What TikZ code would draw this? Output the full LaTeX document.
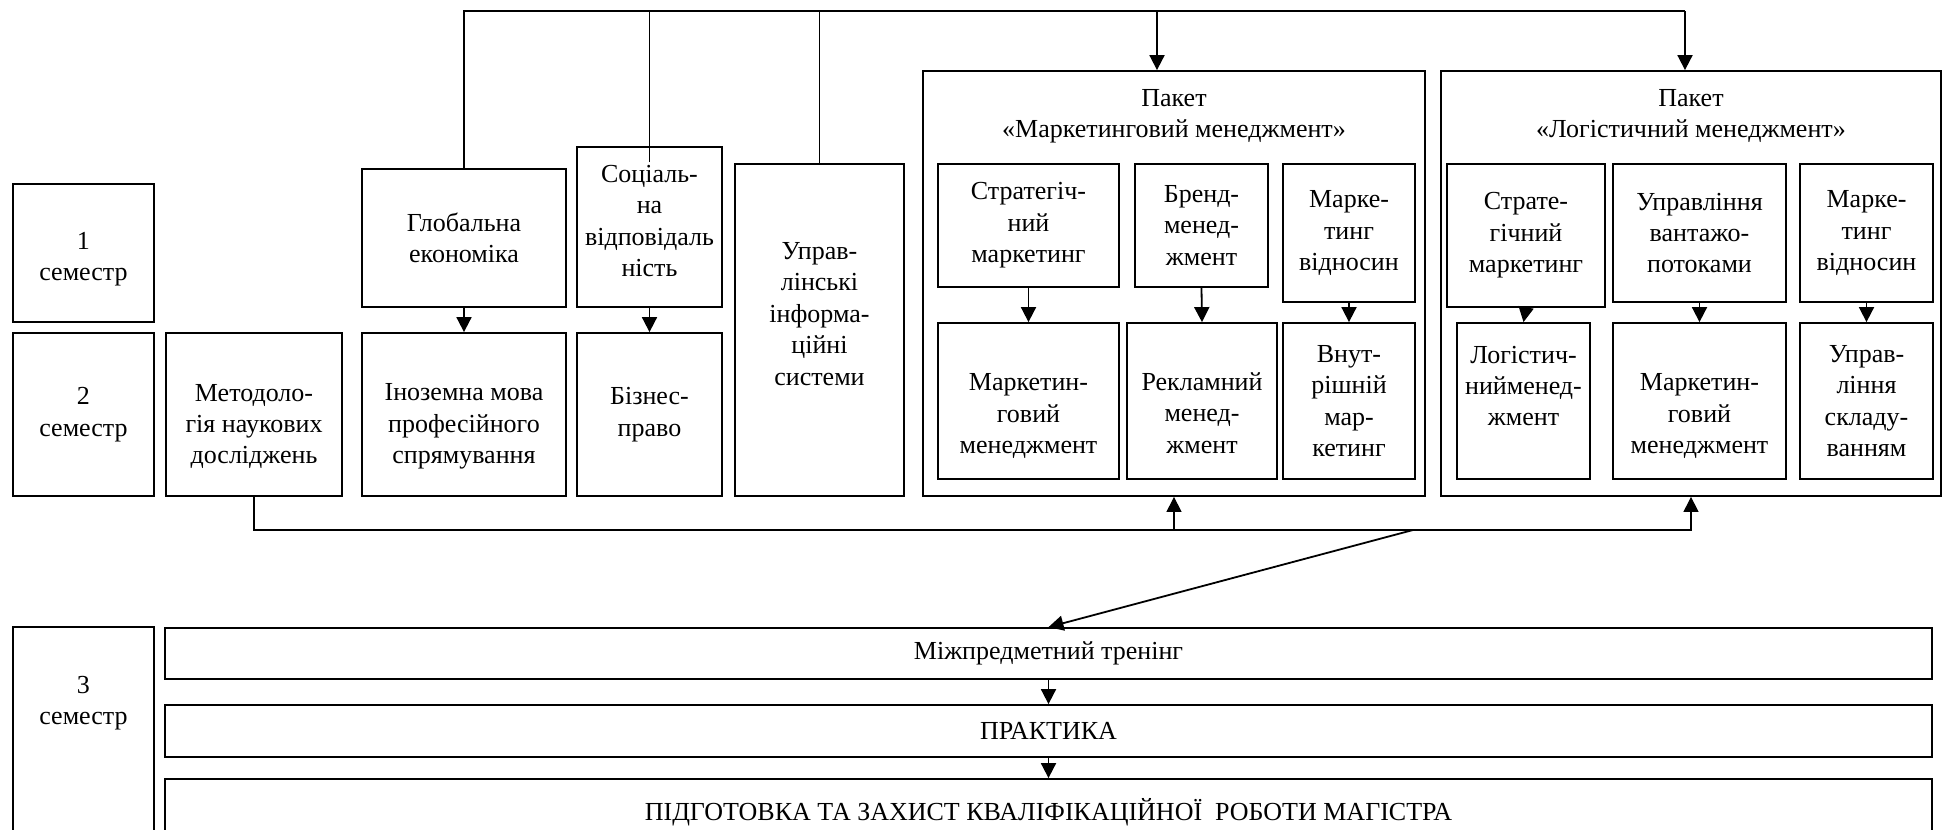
\documentclass[tikz,border=0pt]{standalone}
\usepackage{fontspec}
\setmainfont{Liberation Serif}
\usetikzlibrary{arrows.meta,positioning}

\tikzset{
  txt/.style={align=center, inner sep=0pt, font=\fontsize{13}{15.7}\selectfont},
  box/.style={txt, draw, line width=0.9pt},
  sz/.style 2 args={minimum width=#1*0.5pt, minimum height=#2*0.5pt},
  lbl/.style 2 args={label={[txt, yshift=#1]center:#2}},
  link/.style={line width=0.9pt},
  arr/.style={line width=0.9pt, -{Triangle[length=7.5pt,width=7.5pt]}},
  thinarr/.style={line width=0.6pt, -{Triangle[length=7.5pt,width=7.5pt]}}
}

\begin{document}
\begin{tikzpicture}[x=0.5pt,y=-0.5pt]
\useasboundingbox (0,0) rectangle (1945,830);
\clip (0,0) rectangle (1945,830);
% semesters 1 and 2
\node[box, sz={141}{138}, lbl={-3pt}{1\\семестр}] (sem1) at (83.5,253) {};
\node[box, sz={141}{163}] (sem2) at (83.5,414.5) {2\\семестр};
\node[box, sz={176}{163}, lbl={-6pt}{Методоло-\\гія наукових\\досліджень}] (metod) at (254,414.5) {};
\node[box, sz={204}{138}] (glob) at (464,238) {Глобальна\\економіка};
\node[box, sz={204}{163}, lbl={-6pt}{Іноземна мова\\професійного\\спрямування}] (inoz) at (464,414.5) {};
\node[box, sz={145}{160}, lbl={3pt}{Соціаль-\\на\\відповідаль\\ність}] (soc) at (649.5,227) {};
\node[box, sz={145}{163}] (biz) at (649.5,414.5) {Бізнес-\\право};
\node[box, sz={169}{332}, lbl={8pt}{Управ-\\лінські\\інформа-\\ційні\\системи}] (upr) at (819.5,330) {};
% package 1
\node[box, sz={502}{425}] (pkgM) at (1174,283.5) {};
\node[txt] (ttlM) at (1174,116) {Пакет\\«Маркетинговий менеджмент»};
\node[box, sz={181}{123}] (mS) at (1028.5,225.5) {Стратегіч-\\ний\\маркетинг};
\node[box, sz={133}{123}] (mB) at (1201.5,225.5) {Бренд-\\менед-\\жмент};
\node[box, sz={132}{138}] (mV) at (1349,233) {Марке-\\тинг\\відносин};
\node[box, sz={181}{156}, lbl={-7.5pt}{Маркетин-\\говий\\менеджмент}] (mM) at (1028.5,401) {};
\node[box, sz={150}{156}, lbl={-6pt}{Рекламний\\менед-\\жмент}] (mR) at (1202,401) {};
\node[box, sz={132}{156}] (mI) at (1349,401) {Внут-\\рішній\\мар-\\кетинг};
% package 2
\node[box, sz={500}{425}] (pkgL) at (1691,283.5) {};
\node[txt] (ttlL) at (1691,116) {Пакет\\«Логістичний менеджмент»};
\node[box, sz={158}{143}] (lS) at (1526,235.5) {Страте-\\гічний\\маркетинг};
\node[box, sz={173}{138}] (lU) at (1699.5,233) {Управління\\вантажо-\\потоками};
\node[box, sz={133}{138}] (lV) at (1866.5,233) {Марке-\\тинг\\відносин};
\node[box, sz={133}{156}, lbl={7.5pt}{Логістич-\\нийменед-\\жмент}] (lL) at (1523.5,401) {};
\node[box, sz={173}{156}, lbl={-7.5pt}{Маркетин-\\говий\\менеджмент}] (lM) at (1699.5,401) {};
\node[box, sz={133}{156}] (lSk) at (1866.5,401) {Управ-\\ління\\складу-\\ванням};
% semester 3
\node[box, sz={141}{218}, lbl={16.5pt}{3\\семестр}] (sem3) at (83.5,736) {};
\node[box, sz={1767}{51}] (mid) at (1048.5,653.5) {Міжпредметний тренінг};
\node[box, sz={1767}{52}] (prak) at (1048.5,731) {ПРАКТИКА};
\node[box, sz={1767}{66}] (pidg) at (1048.5,812) {ПІДГОТОВКА ТА ЗАХИСТ КВАЛІФІКАЦІЙНОЇ\ \ РОБОТИ МАГІСТРА};

% top connector
\coordinate (tm) at (1157,11);
\coordinate (tr) at (1685,11);
\draw[link] (glob.north) |- (tr);
\draw[link] ([yshift=-8pt]soc.north) -- (soc.north |- tr);
\draw[link] (upr.north) -- (upr.north |- tr);
\draw[arr] (tm) -- (tm |- pkgM.north);
\draw[arr] (tr) -- (tr |- pkgL.north);

% bottom connector
\coordinate (jn) at (1413,530);
\draw[link] (metod.south) |- (jn);
\draw[thinarr] (jn) -| (pkgL.south);
\draw[thinarr] (pkgM.south |- jn) -- (pkgM.south);
\draw[arr] (jn) -- (mid.north);

\foreach \a/\b in {glob/inoz, soc/biz, mS/mM, mB/mR, mV/mI, lS/lL, lU/lM, lV/lSk, mid/prak, prak/pidg}
  \draw[arr] (\a.south) -- (\b.north);
\end{tikzpicture}
\end{document}
